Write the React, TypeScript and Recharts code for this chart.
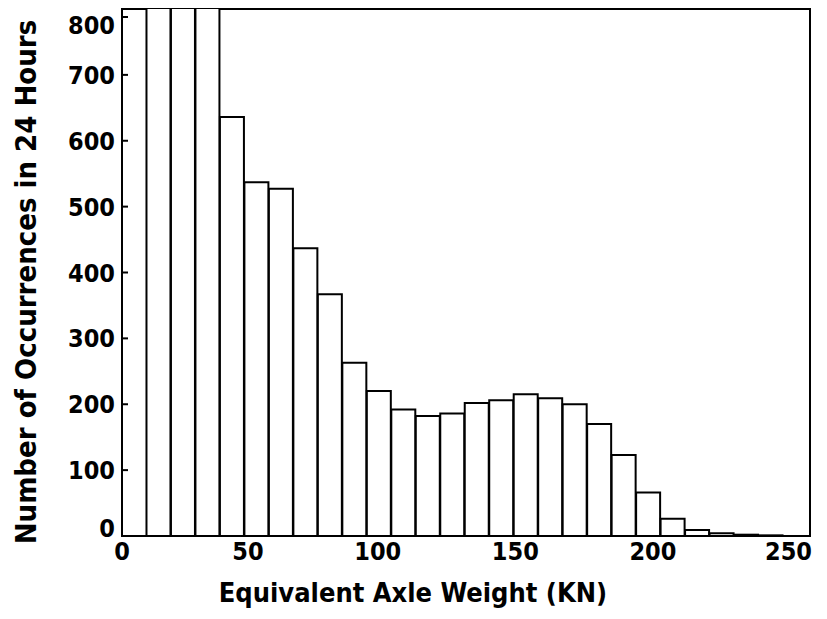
import { Bar, BarChart, Label, ReferenceArea, XAxis, YAxis } from "recharts";

// bins are 2 kips wide (the source counted in kips), plotted in kN
const KN_PER_KIP = 4.448;
const binWidthKips = 2;
const binStartKips = [
  2, 4, 6, 8, 10, 12, 14, 16, 18, 20, 22, 24, 26, 28, 30, 32, 34, 36, 38, 40,
  42, 44, 46, 48, 50, 52,
];
const occurrences = [
  1200, 1500, 1100, 636, 537, 527, 437, 367, 263, 220, 192, 182, 186, 202,
  206, 215, 209, 200, 170, 123, 66, 26, 9, 4, 2, 1,
];
const xTicks = [0, 50, 100, 150, 200, 250];
const yTicks = [0, 100, 200, 300, 400, 500, 600, 700, 800];

const data = binStartKips.map((k, i) => ({
  weight: (k + binWidthKips / 2) * KN_PER_KIP,
  count: occurrences[i],
}));

const FONT = "'DejaVu Sans Condensed', 'Liberation Sans Narrow', sans-serif";

const XTick = (props: any) => {
  const { x, y, payload } = props;
  const dx = payload.value === 0 ? 8 : 4;
  return (
    <text
      x={x + dx}
      y={y + 16}
      textAnchor="end"
      fontFamily={FONT}
      fontWeight="bold"
      fontSize={25}
      fill="#000"
    >
      {payload.value}
    </text>
  );
};

const YTick = (props: any) => {
  const { x, y, payload } = props;
  let dy = 0;
  if (payload.value === 0) dy = -8;
  if (payload.value === 800) dy = 8;
  return (
    <g>
      <line x1={x + 8} x2={x + 14} y1={y} y2={y} stroke="#000" strokeWidth={2} />
      <text
        x={x + 1}
        y={y + dy}
        dy="0.36em"
        textAnchor="end"
        fontFamily={FONT}
        fontWeight="bold"
        fontSize={25}
        fill="#000"
      >
        {payload.value}
      </text>
    </g>
  );
};

const YTitle = () => (
  <text
    x={18}
    y={274}
    transform="rotate(-90, 18, 274)"
    textAnchor="middle"
    dominantBaseline="central"
    fontFamily={FONT}
    fontWeight="bold"
    fontSize={29}
    fill="#000"
  >
    Number of Occurrences in 24 Hours
  </text>
);

export default function App() {
  return (
    <div style={{ background: "#fff" }}>
      <BarChart
        width={812}
        height={600}
        data={data}
        barCategoryGap={0}
        margin={{ top: 1, right: 10, left: 0, bottom: 0 }}
      >
        <XAxis
          dataKey="weight"
          type="number"
          domain={[0, 250]}
          ticks={xTicks}
          allowDataOverflow
          height={72}
          stroke="#000"
          strokeWidth={2}
          tickLine={false}
          tick={<XTick />}
        >
          <Label
            value="Equivalent Axle Weight (KN)"
            position="insideBottom"
            offset={6}
            dx={-53}
            fontFamily={FONT}
            fontWeight="bold"
            fontSize={27}
            fill="#000"
          />
        </XAxis>
        <YAxis
          type="number"
          domain={[0, 800]}
          ticks={yTicks}
          allowDataOverflow
          width={114}
          stroke="#000"
          strokeWidth={2}
          tickLine={false}
          tick={<YTick />}
        >
          <Label content={<YTitle />} />
        </YAxis>
        <Bar
          dataKey="count"
          fill="#fff"
          stroke="#000"
          strokeWidth={2}
          isAnimationActive={false}
        />
        <ReferenceArea
          x1={0}
          x2={250}
          y1={0}
          y2={800}
          fill="none"
          stroke="#000"
          strokeWidth={2}
          ifOverflow="visible"
        />
      </BarChart>
    </div>
  );
}
